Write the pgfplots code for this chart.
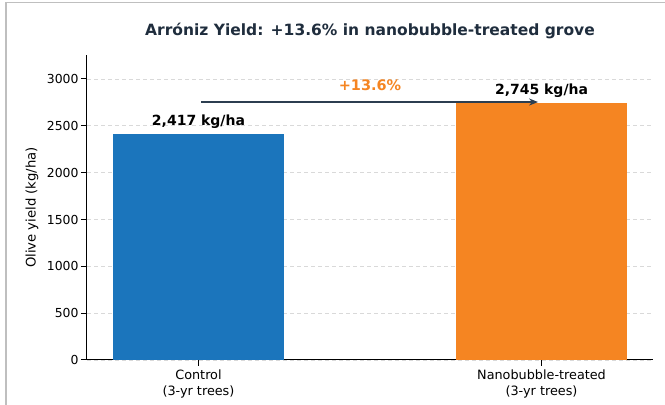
\documentclass[border=0pt]{standalone}
\usepackage{pgfplots}
\pgfplotsset{compat=1.18}
\usepackage{fontspec}
\setmainfont{DejaVu Sans}
\usetikzlibrary{arrows.meta}
\definecolor{cblue}{HTML}{1B75BC}
\definecolor{corange}{HTML}{F58522}
\definecolor{navy}{HTML}{2C3E50}
\definecolor{titlec}{HTML}{1F2D3D}
\begin{document}
\begin{tikzpicture}
\path[use as bounding box] (0,0) rectangle (665bp,405bp);
\draw[color=black!25, line width=1.5bp] (6bp,0) -- (6bp,402.5bp) -- (665bp,402.5bp);
\begin{axis}[
  at={(87bp,45bp)}, anchor=south west,
  scale only axis, width=566bp, height=305bp,
  xmin=-0.325, xmax=1.325, ymin=0, ymax=3256,
  axis x line*=bottom, axis y line*=left,
  axis line style={line width=1bp, black},
  xtick={0,1},
  xticklabels={{Control\\(3-yr trees)},{Nanobubble-treated\\(3-yr trees)}},
  ytick={0,500,1000,1500,2000,2500,3000},
  tick align=outside, major tick length=6bp,
  tick style={line width=1bp, black},
  /pgf/number format/assume math mode=true,
  /pgf/number format/1000 sep={},
  yticklabel style={font=\fontsize{12.4bp}{14bp}\selectfont, xshift=1bp},
  xticklabel style={font=\fontsize{12.8bp}{15.8bp}\selectfont, align=center},
  ymajorgrids,
  grid style={black!15, line width=0.8bp, dash pattern=on 4bp off 3bp},
  ylabel={Olive yield (kg/ha)},
  ylabel style={font=\fontsize{13.2bp}{15bp}\selectfont, at={(axis description cs:-0.0972,0.5)}, anchor=center},
  title={Arróniz Yield: +13.6\% in nanobubble-treated grove},
  title style={font=\bfseries\fontsize{15.5bp}{18bp}\selectfont, color=titlec, at={(axis description cs:0.5,1)}, anchor=base, yshift=14bp},
  clip=false,
]
\addplot[ybar, bar width=0.5, bar shift=0pt, fill=cblue, draw=none] coordinates {(0,2417)};
\addplot[ybar, bar width=0.5, bar shift=0pt, fill=corange, draw=none] coordinates {(1,2745)};
\node[font=\bfseries\fontsize{14bp}{16bp}\selectfont, anchor=south, inner sep=0pt] at (axis cs:0,2467) {2,417 kg/ha};
\node[font=\bfseries\fontsize{14bp}{16bp}\selectfont, anchor=south, inner sep=0pt] at (axis cs:1,2795) {2,745 kg/ha};
\draw[navy, line width=1.8bp, -{Stealth[length=9bp,width=7bp]}] (axis cs:0.008,2754) -- (axis cs:0.99,2754);
\node[font=\bfseries\fontsize{14.5bp}{16bp}\selectfont, text=corange, anchor=center, inner sep=0pt] at (axis cs:0.5,2937) {+13.6\%};
\end{axis}
\end{tikzpicture}
\end{document}
